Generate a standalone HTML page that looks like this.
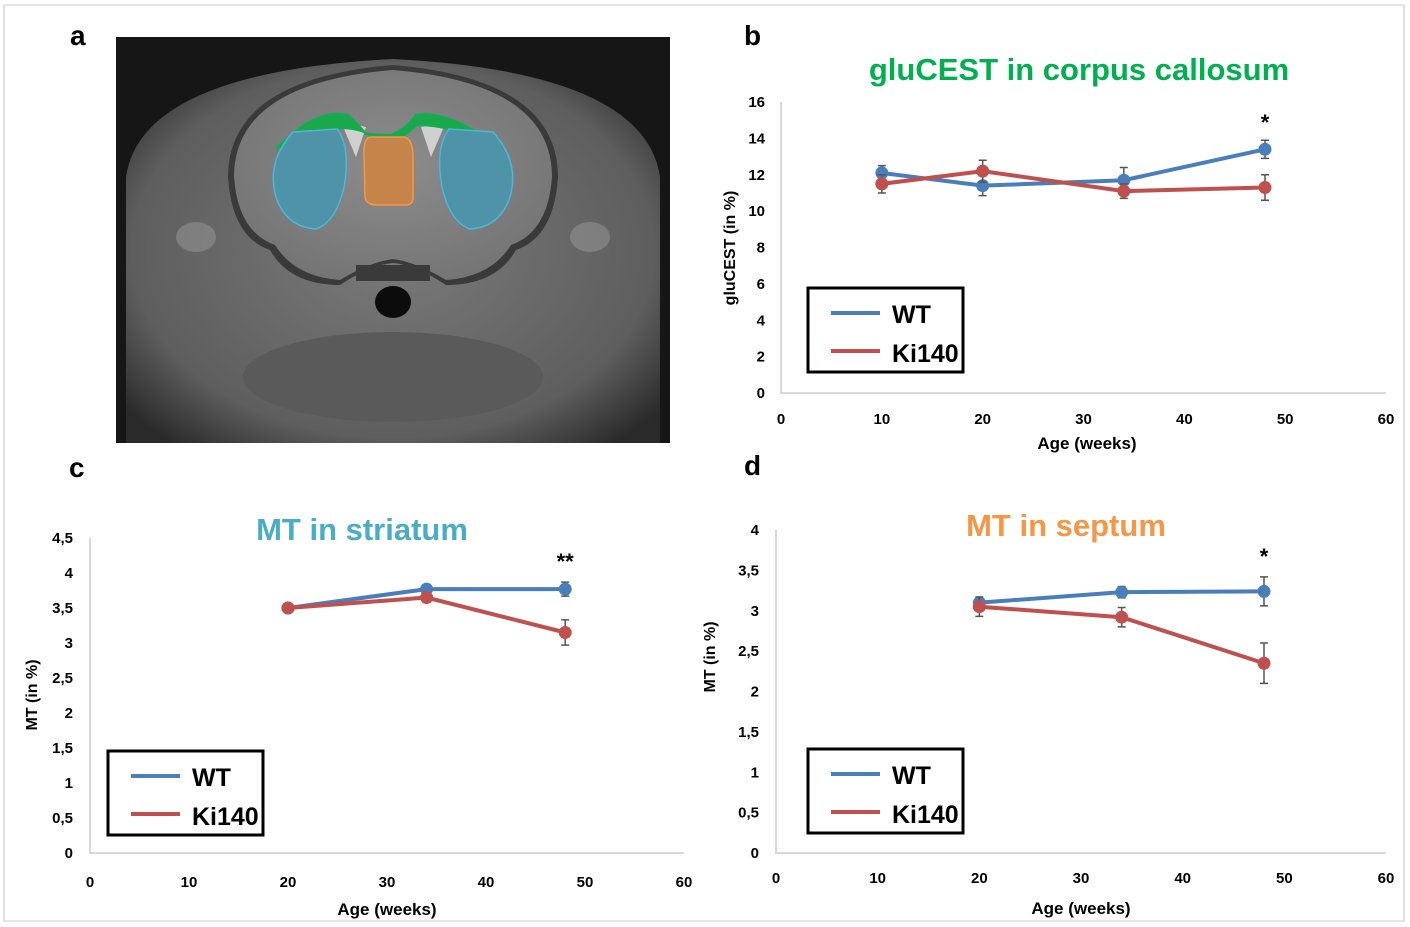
<!DOCTYPE html>
<html><head><meta charset="utf-8"><style>
body{margin:0;background:#fff;}
#root{position:relative;width:1410px;height:927px;overflow:hidden;font-family:"Liberation Sans",sans-serif;}
.frame{position:absolute;left:3px;top:4px;width:1402px;height:918px;border:2px solid #e4e4e4;box-sizing:border-box;}
.lbl{position:absolute;font-weight:bold;font-size:28px;color:#000;}
svg text{font-family:"Liberation Sans",sans-serif;}
</style></head><body>
<div id="root">
<div class="frame"></div>
<div class="lbl" style="left:70px;top:20px">a</div>
<div class="lbl" style="left:744px;top:20px">b</div>
<div class="lbl" style="left:69px;top:452px">c</div>
<div class="lbl" style="left:744px;top:450px">d</div>

<svg style="position:absolute;left:116px;top:37px" width="554" height="406">
<defs>
<radialGradient id="bg" cx="50%" cy="50%" r="65%"><stop offset="0" stop-color="#7a7a7a"/><stop offset="0.75" stop-color="#5e5e5e"/><stop offset="1" stop-color="#2a2a2a"/></radialGradient>
<radialGradient id="br" cx="50%" cy="45%" r="60%"><stop offset="0" stop-color="#8c8c8c"/><stop offset="1" stop-color="#747474"/></radialGradient>
</defs>
<rect width="554" height="406" fill="#161616"/>
<path d="M10,406 L10,140 Q25,35 277,22 Q529,35 544,140 L544,406 Z" fill="url(#bg)"/>
<path d="M112,140 Q112,42 277,28 Q442,42 442,140 Q438,200 400,213 Q380,248 330,248 Q300,228 277,226 Q254,228 224,248 Q174,248 154,213 Q116,200 112,140 Z" fill="#3a3a3a"/>
<path d="M118,140 Q118,46 277,33 Q436,46 436,140 Q432,195 395,208 Q375,240 330,243 Q300,225 277,222 Q254,225 224,243 Q179,240 159,208 Q122,195 118,140 Z" fill="url(#br)"/>
<path d="M225,85 L240,120 L250,90 Z M330,85 L315,120 L305,90 Z" fill="#d0d0d0"/>
<ellipse cx="277" cy="265" rx="18" ry="16" fill="#0c0c0c"/>
<rect x="240" y="228" width="74" height="16" fill="#3a3a3a"/>
<ellipse cx="277" cy="340" rx="150" ry="45" fill="#5a5a5a"/>
<ellipse cx="80" cy="200" rx="20" ry="15" fill="#9a9a9a" opacity="0.5"/>
<ellipse cx="474" cy="200" rx="20" ry="15" fill="#9a9a9a" opacity="0.5"/>
<path d="M160,112 Q200,70 232,78 Q245,90 250,97 L275,98 Q290,92 300,78 Q330,72 380,108 L385,112 Q340,88 300,88 Q290,100 277,103 Q260,103 248,95 Q215,82 160,112 Z" fill="#1aa84a" stroke="#0bb050" stroke-width="2"/>
<path d="M177,95 Q150,125 160,160 Q170,190 200,192 Q220,185 228,150 Q235,110 221,92 Z" fill="#4f93a8" stroke="#4bb8d8" stroke-width="1.5"/>
<path d="M377,95 Q404,125 394,160 Q384,190 354,192 Q334,185 326,150 Q319,110 333,92 Z" fill="#4f93a8" stroke="#4bb8d8" stroke-width="1.5"/>
<path d="M255,100 Q247,100 248,120 L249,160 Q250,168 262,168 L290,168 Q298,168 297,158 L297,120 Q297,102 288,100 Z" fill="#c5854a" stroke="#f79646" stroke-width="1.5"/>
</svg>

<svg id="charts" style="position:absolute;left:0;top:0" width="1410" height="927"></svg>
</div>
<script>
// Panel b: gluCEST in corpus callosum
const bAges=[10,20,34,48];
const bWT=[12.1,11.4,11.7,13.4];
const bWTerr=[0.4,0.55,0.7,0.5];
const bKi=[11.5,12.2,11.1,11.3];
const bKierr=[0.5,0.6,0.4,0.7];
const bYTicks=["0","2","4","6","8","10","12","14","16"];
const bXTicks=["0","10","20","30","40","50","60"];
// Panel c: MT in striatum
const cAges=[20,34,48];
const cWT=[3.5,3.77,3.77];
const cWTerr=[0.03,0.06,0.1];
const cKi=[3.5,3.65,3.15];
const cKierr=[0.03,0.07,0.18];
const cYTicks=["0","0,5","1","1,5","2","2,5","3","3,5","4","4,5"];
const cXTicks=["0","10","20","30","40","50","60"];
// Panel d: MT in septum
const dAges=[20,34,48];
const dWT=[3.1,3.23,3.24];
const dWTerr=[0.05,0.07,0.18];
const dKi=[3.05,2.92,2.35];
const dKierr=[0.12,0.12,0.25];
const dYTicks=["0","0,5","1","1,5","2","2,5","3","3,5","4"];
const dXTicks=["0","10","20","30","40","50","60"];

const NS="http://www.w3.org/2000/svg";
const svg=document.getElementById('charts');
function mk(tag,attrs,parent){const e=document.createElementNS(NS,tag);for(const k in attrs)e.setAttribute(k,attrs[k]);(parent||svg).appendChild(e);return e;}
function txt(s,attrs,parent){const e=mk('text',attrs,parent);e.textContent=s;return e;}

function drawChart(p){
  const g=mk('g',{});
  
  
  const xs=v=>p.x0+(v-p.xmin)/(p.xmax-p.xmin)*(p.x1-p.x0);
  const ys=v=>p.y0-(v/p.ymax)*(p.y0-p.y1);
  const ax=mk('path',{d:`M${p.x0},${p.y1} L${p.x0},${p.y0} L${p.x1},${p.y0}`,fill:'none',stroke:'#d9d9d9','stroke-width':2},g);
  
  
  const ystep=p.ymax/(p.yt.length-1);
  p.yt.forEach((t,i)=>{const e=txt(t,{x:p.x0-p.ylOff,y:ys(i*ystep)+5,'text-anchor':'end','font-size':15,'font-weight':'bold'},g);
    
    });
  const xstep=(p.xmax-p.xmin)/(p.xt.length-1);
  p.xt.forEach((t,i)=>{const e=txt(t,{x:xs(p.xmin+i*xstep),y:p.xlY,'text-anchor':'middle','font-size':15,'font-weight':'bold'},g);
    
    });
  const xt=txt('Age (weeks)',{x:p.xtX,y:p.xtY,'text-anchor':'middle','font-size':17,'font-weight':'bold'},g);
  
  
  const yt=txt(p.ytitle,{x:0,y:0,'text-anchor':'middle','font-size':16,'font-weight':'bold',transform:`translate(${p.ytX},${p.ytY}) rotate(-90)`},g);
  
  
  const ti=txt(p.title,{x:p.tX,y:p.tY,'text-anchor':'middle','font-size':31,'font-weight':'bold',fill:p.tColor},g);
  
  
  [[p.wt,p.wte,'#4a7ebb','wt'],[p.ki,p.kie,'#c0504d','ki140']].forEach(([vals,errs,col,nm])=>{
    const d=vals.map((v,i)=>(i?'L':'M')+xs(p.ages[i])+','+ys(v)).join(' ');
    const l=mk('path',{d:d,fill:'none',stroke:col,'stroke-width':4},g);
    
    
    vals.forEach((v,i)=>{const x=xs(p.ages[i]);const a=ys(v+errs[i]),b=ys(v-errs[i]);
      const eb=mk('path',{d:`M${x},${a} L${x},${b} M${x-4},${a} L${x+4},${a} M${x-4},${b} L${x+4},${b}`,stroke:'#555','stroke-width':1.5,fill:'none'},g);
      
      
      const c=mk('circle',{cx:x,cy:ys(v),r:6.5,fill:col},g);
      
      });
  });
  const st=txt(p.star,{x:xs(p.ages[p.ages.length-1]),y:p.starY,'text-anchor':'middle','font-size':22,'font-weight':'bold'},g);
  
  
  const lg=mk('g',{},g);
  
  
  mk('rect',{x:p.lx,y:p.ly,width:155,height:84,fill:'#fff',stroke:'#000','stroke-width':3},lg);
  mk('line',{x1:p.lx+23,x2:p.lx+72,y1:p.ly+25,y2:p.ly+25,stroke:'#4a7ebb','stroke-width':4},lg);
  mk('line',{x1:p.lx+23,x2:p.lx+72,y1:p.ly+63,y2:p.ly+63,stroke:'#c0504d','stroke-width':4},lg);
  const l1=txt('WT',{x:p.lx+84,y:p.ly+35,'font-size':25,'font-weight':'bold'},lg);
  
  
  const l2=txt('Ki140',{x:p.lx+84,y:p.ly+74,'font-size':25,'font-weight':'bold'},lg);
  
  
}
drawChart({id:'glucest',x0:781,x1:1386,xmin:0,xmax:60,y0:393,y1:102,ymax:16,yt:bYTicks,xt:bXTicks,ylOff:16,xlY:424,
  xtX:1087,xtY:449,ytX:735,ytY:248,ytitle:'gluCEST (in %)',title:'gluCEST in corpus callosum',tX:1079,tY:80,tColor:'#00b050',
  ages:bAges,wt:bWT,wte:bWTerr,ki:bKi,kie:bKierr,star:'*',starY:130,lx:808,ly:288});
drawChart({id:'mt-striatum',x0:90,x1:684,xmin:0,xmax:60,y0:853,y1:538,ymax:4.5,yt:cYTicks,xt:cXTicks,ylOff:17,xlY:887,
  xtX:387,xtY:915,ytX:37,ytY:695,ytitle:'MT (in %)',title:'MT in striatum',tX:362,tY:540,tColor:'#4bacc6',
  ages:cAges,wt:cWT,wte:cWTerr,ki:cKi,kie:cKierr,star:'**',starY:569,lx:108,ly:751});
drawChart({id:'mt-septum',x0:776,x1:1386,xmin:0,xmax:60,y0:853,y1:530,ymax:4,yt:dYTicks,xt:dXTicks,ylOff:17,xlY:883,
  xtX:1081,xtY:914,ytX:715,ytY:657,ytitle:'MT (in %)',title:'MT in septum',tX:1066,tY:536,tColor:'#f79646',
  ages:dAges,wt:dWT,wte:dWTerr,ki:dKi,kie:dKierr,star:'*',starY:564,lx:808,ly:749});
</script>
</body></html>
